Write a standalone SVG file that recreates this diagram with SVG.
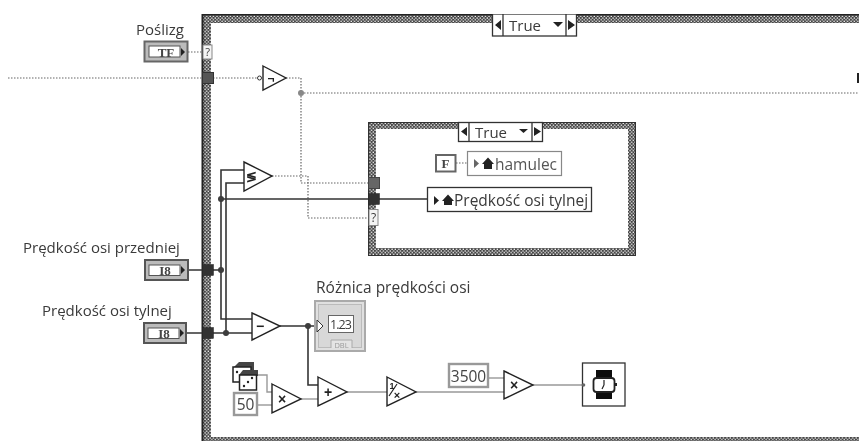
<svg xmlns="http://www.w3.org/2000/svg" width="859" height="441" viewBox="0 0 859 441">
<style>
text{font-family:"Open Sans","Liberation Sans",sans-serif;fill:#3a3a3a}
.lbl{font-size:15px}
.w{fill:none;stroke:#333;stroke-width:1.6}
.d{fill:none;stroke:#666;stroke-width:1.2;stroke-dasharray:1.5 1.5}
.g{fill:none;stroke:#999;stroke-width:1.4}
.tri{fill:#fff;stroke:#222;stroke-width:1.4}
.op{font-family:"Liberation Sans",sans-serif;font-weight:bold;fill:#222;text-anchor:middle}
.tun{fill:#333;stroke:#222;stroke-width:.5}
.j{fill:#3c3c3c}
.box{fill:#fff;stroke:#333;stroke-width:1.3}
.gb{fill:#fff;stroke:#999;stroke-width:2.4}
.ar{fill:#222}
.ty{font-family:"Liberation Serif",serif;font-weight:bold;font-size:13px;text-anchor:middle;fill:#444}
</style>
<defs>
<pattern id="chk" width="3.4" height="3.4" patternUnits="userSpaceOnUse">
<rect width="3.4" height="3.4" fill="#444"/>
<rect x="0.4" y="0.4" width="1.3" height="1.3" fill="#fff"/>
<rect x="2.1" y="2.1" width="1.3" height="1.3" fill="#fff"/>
</pattern>
<filter id="soft" x="0" y="0" width="100%" height="100%"><feGaussianBlur stdDeviation="0.35"/></filter>
</defs>
<rect width="859" height="441" fill="#fff"/>
<g filter="url(#soft)">
<g id="outer-case">
<path fill="url(#chk)" d="M202 14H859V23H211V437H859V441H202Z"/>
<path d="M202.500 441V14.500H859" fill="none" stroke="#222" stroke-width="2"/>
</g>
<g id="connectors">
<path class="d" d="M8 78H202"/>
<path class="d" d="M213 78H258"/>
<path class="d" d="M188 52H202"/>
<path class="d" d="M286 78H301V183H368"/>
<path class="d" d="M301 93H859"/>
<path class="d" d="M272 176H308V218H368"/>
<path class="d" d="M456 163H467"/>
<path class="w" d="M221 199H428"/>
<path class="w" d="M244 170H221V319H253"/>
<path class="w" d="M244 183H226V333"/>
<path class="w" d="M188 270H221"/>
<path class="w" d="M186 333H253"/>
<path class="w" d="M280 326H317"/>
<path class="w" d="M308 326V385H319"/>
<path class="g" d="M258 375H267V392H272"/>
<path class="g" d="M258 405H272"/>
<path class="g" d="M301 399H318"/>
<path class="g" d="M347 392H387"/>
<path class="g" d="M416 392H504"/>
<path class="g" d="M489 378H504"/>
<path class="g" d="M533 385H582"/>
</g>
<g id="outer-selector">
<rect class="box" x="492.500" y="14" width="84" height="22"/>
<path class="box" d="M503 14V36M566 14V36"/>
<path class="ar" d="M501 20V30L495 25ZM568 20V30L575 25Z"/>
<path class="ar" d="M553 22H563L558 27Z"/>
<text x="509" y="31" font-size="15">True</text>
</g>
<g id="poslizg">
<text class="lbl" x="136" y="35">Poślizg</text>
<rect x="144.500" y="41.500" width="43" height="20" fill="#bbb" stroke="#666" stroke-width="2"/>
<rect x="149" y="46" width="31" height="11" fill="#fff" stroke="#555"/>
<text class="ty" x="166" y="56.500">TF</text>
<path class="ar" d="M181 48V56L185 52Z"/>
</g>
<g id="poslizg-selector">
<rect x="203" y="45" width="9" height="14" fill="#f4f4f4" stroke="#888"/>
<text x="207.500" y="56" font-size="11" text-anchor="middle">?</text>
</g>
<g id="tunnel-top"><rect x="202.500" y="72.500" width="11" height="11" fill="#555" stroke="#333"/></g>
<g id="not">
<circle cx="259.500" cy="78" r="2" fill="#fff" stroke="#333"/>
<path class="tri" d="M263 66L286 78L263 90Z"/>
<text class="op" x="271" y="83" font-size="12">¬</text>
</g>
<circle id="junction-not" cx="301" cy="93" r="3" fill="#888"/>
<g id="compare">
<path class="tri" d="M244 162L272 176L244 191Z"/>
<text class="op" x="251" y="181" font-size="13">≶</text>
</g>
<g id="inner-case">
<path fill="url(#chk)" fill-rule="evenodd" d="M368 122H636V256H368ZM376 129V248H628V129Z"/>
<rect x="368.500" y="122.500" width="267" height="133" fill="none" stroke="#333"/>
</g>
<g id="inner-selector">
<rect class="box" x="458.500" y="122.500" width="84" height="19"/>
<path class="box" d="M469 122V141M532 122V141"/>
<path class="ar" d="M467 127V136L461 131.500ZM534 127V136L541 131.500Z"/>
<path class="ar" d="M519 129H528L523.500 133Z"/>
<text x="475" y="138" font-size="15">True</text>
</g>
<g id="inner-tunnels">
<rect x="368.500" y="177.500" width="11" height="11" fill="#666" stroke="#444"/>
<rect class="tun" x="368.500" y="193.500" width="11" height="11"/>
<rect x="369" y="209.500" width="9" height="16" fill="#f4f4f4" stroke="#888"/>
<text x="373.500" y="222" font-size="12" text-anchor="middle">?</text>
</g>
<g id="false-const">
<rect x="436" y="155" width="19.500" height="16.500" fill="#fff" stroke="#666" stroke-width="2"/>
<text class="ty" x="445.500" y="167.500">F</text>
</g>
<g id="hamulec">
<rect x="467.500" y="151.500" width="94" height="24" fill="#fff" stroke="#888" stroke-width="1.200"/>
<path d="M474 159V168L479 163.500Z" fill="#666"/>
<path class="ar" d="M482 164L488 157.500L494 164H492V169H484V164Z"/>
<text x="495" y="170" font-size="15.500" style="fill:#555">hamulec</text>
</g>
<g id="predkosc-tylnej-local">
<rect class="box" x="427.500" y="187.500" width="164" height="24"/>
<path class="ar" d="M434 196V205L439 200.500Z"/>
<path class="ar" d="M442 201L448 194.500L454 201H452V205H444V201Z"/>
<text x="454" y="206" font-size="15.500">Prędkość osi tylnej</text>
</g>
<g id="predkosc-przedniej">
<text class="lbl" x="23" y="253">Prędkość osi przedniej</text>
<rect x="145" y="260" width="43" height="20" fill="#bbb" stroke="#555" stroke-width="2"/>
<rect x="149" y="265" width="31" height="10.500" fill="#fff" stroke="#555"/>
<text class="ty" x="165" y="275">I8</text>
<path class="ar" d="M181 266V274L185 270Z"/>
</g>
<g id="predkosc-tylnej">
<text class="lbl" x="42" y="316">Prędkość osi tylnej</text>
<rect x="144" y="323" width="42" height="20" fill="#bbb" stroke="#555" stroke-width="2"/>
<rect x="148" y="328" width="31" height="10.500" fill="#fff" stroke="#555"/>
<text class="ty" x="164" y="338">I8</text>
<path class="ar" d="M180 329V337L184 333Z"/>
</g>
<g id="tunnels-left">
<rect class="tun" x="202.500" y="264.500" width="11" height="11"/>
<rect class="tun" x="202.500" y="327.500" width="11" height="11"/>
</g>
<g id="junctions">
<circle class="j" cx="221" cy="199" r="3"/>
<circle class="j" cx="221" cy="270" r="3"/>
<circle class="j" cx="226" cy="333" r="3"/>
<circle class="j" cx="308" cy="326" r="3"/>
</g>
<g id="subtract">
<path class="tri" d="M252 313L280 326L252 340Z"/>
<text class="op" x="260" y="331" font-size="14">−</text>
</g>
<g id="roznica">
<text class="lbl" x="316" y="293" style="font-size:15.500px">Różnica prędkości osi</text>
<rect x="315" y="301" width="50" height="50" fill="#e0e0e0" stroke="#aaa" stroke-width="2"/>
<rect x="318.500" y="304.500" width="43" height="43" fill="#d8d8d8" stroke="#bbb"/>
<path d="M317 320V332L323 326Z" fill="#fff" stroke="#333"/>
<rect x="328.500" y="315.500" width="25" height="17" fill="#fff" stroke="#666"/>
<text x="330" y="329" font-size="12.500" textLength="22">1.23</text>
<path d="M331 348V340H352V348" fill="#e4e4e4" stroke="#aaa"/>
<text x="341.500" y="348" font-size="7.500" text-anchor="middle" style="fill:#999">DBL</text>
</g>
<g id="dice">
<path d="M233 368L239 362H254V370H233Z" fill="#444"/>
<rect x="233" y="367" width="18" height="15" fill="#fff" stroke="#222" stroke-width="1.500"/>
<path d="M239 375L243 370H258V376H239Z" fill="#444"/>
<rect x="239.500" y="375" width="17" height="15" fill="#fff" stroke="#222" stroke-width="1.500"/>
<circle cx="237" cy="372" r="1.200" fill="#222"/>
<circle cx="244" cy="386" r="1.200" fill="#222"/><circle cx="248" cy="382" r="1.200" fill="#222"/><circle cx="252" cy="378" r="1.200" fill="#222"/>
</g>
<g id="const-50">
<rect class="gb" x="234" y="393" width="23" height="22"/>
<text x="245.500" y="410" font-size="15.500" text-anchor="middle" style="fill:#444">50</text>
</g>
<g id="mul1">
<path class="tri" d="M272 384L301 399L272 413Z"/>
<text class="op" x="282" y="404" font-size="14">×</text>
</g>
<g id="add">
<path class="tri" d="M318 377L347 392L318 406Z"/>
<text class="op" x="328" y="397" font-size="14">+</text>
</g>
<g id="reciprocal">
<path class="tri" d="M387 377L416 392L387 406Z"/>
<text class="op" x="392" y="389" font-size="9">1</text>
<path d="M389 396L397 384" stroke="#222" stroke-width="1.200"/>
<text class="op" x="397" y="399" font-size="11">×</text>
</g>
<g id="const-3500">
<rect class="gb" x="449" y="364" width="39" height="23"/>
<text x="468.500" y="382" font-size="15.500" text-anchor="middle" style="fill:#444">3500</text>
</g>
<g id="mul2">
<path class="tri" d="M504 371L533 385L504 399Z"/>
<text class="op" x="514" y="390" font-size="14">×</text>
</g>
<g id="wait">
<rect class="box" x="582.500" y="363" width="42.500" height="43"/>
<path d="M596 370H612V379H596ZM596 391H612V399H596Z" fill="#111"/>
<rect x="593.500" y="378" width="21" height="14" rx="3" fill="#fff" stroke="#222" stroke-width="1.800"/>
<path d="M604 385V380M604 385L602 389" stroke="#222" stroke-width="1.200"/>
<circle cx="583.500" cy="385" r="1.800" fill="#666"/>
<rect x="615" y="383" width="2" height="3" fill="#222"/>
</g>
<rect id="edge-fragment" x="857" y="73" width="2" height="10" fill="#222"/>
</g>
</svg>
